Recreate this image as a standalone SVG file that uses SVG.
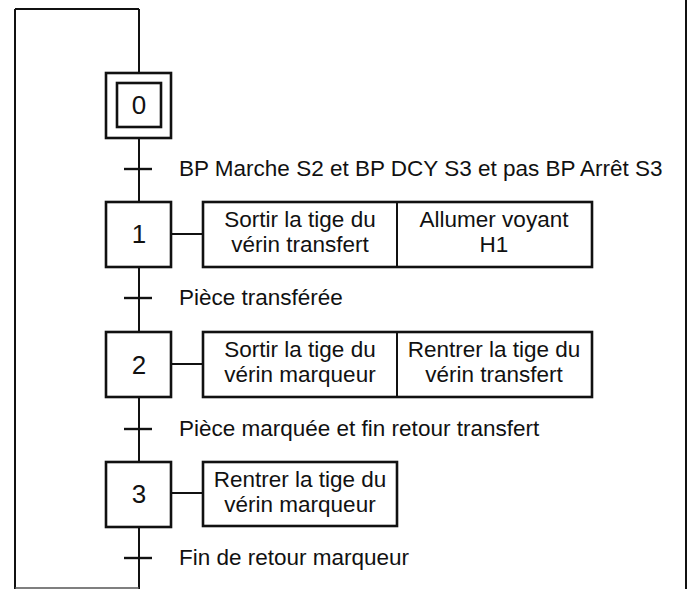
<svg xmlns="http://www.w3.org/2000/svg" width="690" height="589" viewBox="0 0 690 589">
<style>
.box{fill:#fff;stroke:#111;stroke-width:2.6}
.ln{fill:none;stroke:#111;stroke-width:2}
.tk{fill:none;stroke:#111;stroke-width:2.4}
.t{font-family:"Liberation Sans",Arial,sans-serif;font-size:22.5px;fill:#111}
.c{text-anchor:middle}
.n{font-family:"Liberation Sans",Arial,sans-serif;font-size:26px;fill:#111;text-anchor:middle}
</style>
<rect width="690" height="589" fill="#fff"/>
<g id="connectors">
<path class="ln" d="M139 9 V589 M15 9 H139 M15 9 V589"/>
<path d="M15 588 H139" fill="none" stroke="#555" stroke-width="1.5"/>
<path class="ln" d="M686 0 V589"/>
<path class="ln" d="M171 234 H203 M171 364 H203 M171 493 H203"/>
</g>
<g id="step0">
<rect class="box" x="106" y="73" width="65" height="65"/>
<rect class="box" x="117" y="83" width="44" height="44"/>
<text class="n" x="139" y="114">0</text>
</g>
<g id="transition0">
<path class="tk" d="M124 169 H152"/>
<text class="t" x="179" y="176">BP Marche S2 et BP DCY S3 et pas BP Arrêt S3</text>
</g>
<g id="step1">
<rect class="box" x="106" y="202" width="65" height="65"/>
<text class="n" x="139" y="243">1</text>
</g>
<g id="actions1">
<rect class="box" x="203" y="202" width="389" height="65"/>
<path class="ln" d="M397 202 V267"/>
<text class="t c" x="300" y="227">Sortir la tige du</text>
<text class="t c" x="300" y="252">vérin transfert</text>
<text class="t c" x="494" y="227">Allumer voyant</text>
<text class="t c" x="494" y="252">H1</text>
</g>
<g id="transition1">
<path class="tk" d="M124 298 H152"/>
<text class="t" x="179" y="305">Pièce transférée</text>
</g>
<g id="step2">
<rect class="box" x="106" y="332" width="65" height="65"/>
<text class="n" x="139" y="374">2</text>
</g>
<g id="actions2">
<rect class="box" x="203" y="332" width="389" height="65"/>
<path class="ln" d="M397 332 V397"/>
<text class="t c" x="300" y="357">Sortir la tige du</text>
<text class="t c" x="300" y="382">vérin marqueur</text>
<text class="t c" x="494" y="357">Rentrer la tige du</text>
<text class="t c" x="494" y="382">vérin transfert</text>
</g>
<g id="transition2">
<path class="tk" d="M124 429 H152"/>
<text class="t" x="179" y="436">Pièce marquée et fin retour transfert</text>
</g>
<g id="step3">
<rect class="box" x="106" y="462" width="65" height="65"/>
<text class="n" x="139" y="503">3</text>
</g>
<g id="actions3">
<rect class="box" x="203" y="462" width="194" height="64"/>
<text class="t c" x="300" y="487">Rentrer la tige du</text>
<text class="t c" x="300" y="512">vérin marqueur</text>
</g>
<g id="transition3">
<path class="tk" d="M124 558 H152"/>
<text class="t" x="179" y="565">Fin de retour marqueur</text>
</g>
</svg>
